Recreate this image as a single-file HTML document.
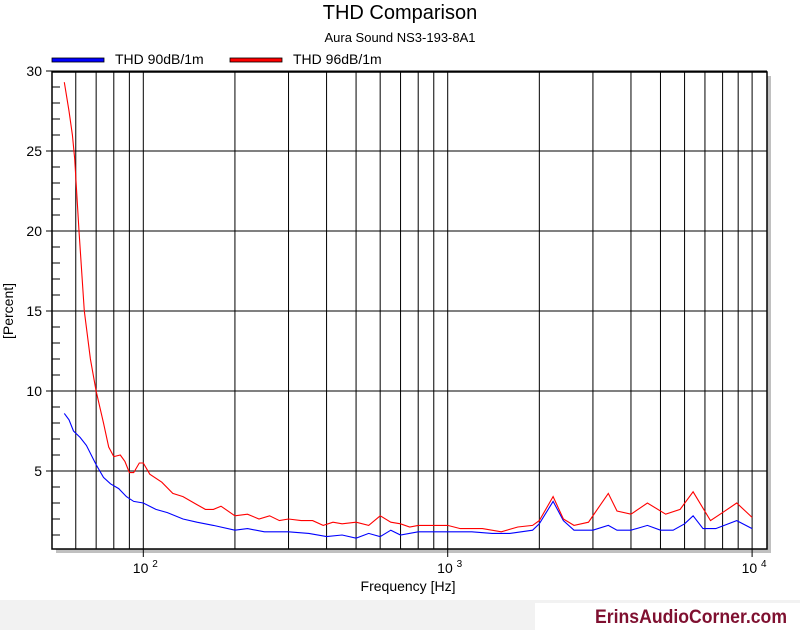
<!DOCTYPE html>
<html><head><meta charset="utf-8"><style>
body{margin:0;background:#fff;font-family:"Liberation Sans",sans-serif;}
svg text{font-family:"Liberation Sans",sans-serif;}
</style></head><body>
<svg id="c" width="800" height="630" xmlns="http://www.w3.org/2000/svg">
<rect x="0" y="600" width="800" height="30" fill="#f2f2f2"/>
<rect x="535" y="603" width="265" height="27" fill="#fff"/>
<text x="595" y="623" font-size="19" font-weight="bold" fill="#7f1030" textLength="192" lengthAdjust="spacingAndGlyphs">ErinsAudioCorner.com</text>
<text x="400" y="19" text-anchor="middle" font-size="20">THD Comparison</text>
<text x="400" y="42" text-anchor="middle" font-size="13">Aura Sound NS3-193-8A1</text>
<g>
<rect x="52" y="58" width="52" height="4" fill="#0000ff" stroke="#000" stroke-width="0.8"/>
<text x="115" y="64" font-size="14">THD 90dB/1m</text>
<rect x="230" y="58" width="52" height="4" fill="#ff0000" stroke="#000" stroke-width="0.8"/>
<text x="293" y="64" font-size="14">THD 96dB/1m</text>
</g>
<rect x="56" y="76" width="715" height="477" fill="#c0c0c0"/>
<rect x="52" y="72" width="715" height="477" fill="#fff"/>
<g id="grid"></g>
<g id="series"></g>
<rect x="52" y="72" width="715" height="477" fill="none" stroke="#000" stroke-width="1.5"/>
<text x="408" y="591" text-anchor="middle" font-size="14">Frequency [Hz]</text>
<text transform="translate(13,311) rotate(-90)" text-anchor="middle" font-size="14">[Percent]</text>
</svg>
<script>
const yTicks=[5,10,15,20,25,30];
const xDecades=[100,1000,10000];
const freqRed=[55,57,58.5,59.5,61.5,64,67,70,74,77,80,84,87,90,93,97,100,105,115,125,135,150,160,170,180,200,220,240,260,280,300,330,360,390,420,450,500,550,600,650,700,750,800,900,1000,1100,1300,1500,1700,1900,2000,2220,2400,2600,2900,3370,3600,4000,4530,5200,5800,6400,7300,8000,8900,10000];
const thd96=[29.3,27.5,26,24.5,20,15,12,10,8,6.5,5.9,6.0,5.6,4.9,4.9,5.5,5.5,4.8,4.3,3.6,3.4,2.9,2.6,2.6,2.8,2.2,2.3,2.0,2.2,1.9,2.0,1.9,1.9,1.6,1.8,1.7,1.8,1.6,2.2,1.8,1.7,1.5,1.6,1.6,1.6,1.4,1.4,1.2,1.5,1.6,1.9,3.4,2.0,1.6,1.8,3.6,2.5,2.3,3.0,2.3,2.6,3.7,1.9,2.4,3.0,2.1];
const freqBlue=[55,57,59,62,65,70,74,78,83,88,93,100,110,120,135,150,170,200,220,250,300,350,400,450,500,550,600,650,700,800,1000,1200,1400,1600,1900,2000,2220,2400,2600,3000,3370,3600,4000,4530,5000,5500,6000,6400,6900,7600,8900,10000];
const thd90=[8.6,8.2,7.5,7.1,6.6,5.4,4.6,4.2,3.9,3.4,3.1,3.0,2.6,2.4,2.0,1.8,1.6,1.3,1.4,1.2,1.2,1.1,0.9,1.0,0.8,1.1,0.9,1.3,1.0,1.2,1.2,1.2,1.1,1.1,1.3,1.7,3.1,1.9,1.3,1.3,1.6,1.3,1.3,1.6,1.3,1.3,1.7,2.2,1.4,1.4,1.9,1.4];
const NS='http://www.w3.org/2000/svg';
const X0=52,X1=767,Y0=72,Y1=549;
function xs(f){return 143.3+(Math.log10(f)-2)*304.4;}
function ys(v){return 551-v*16;}
function mk(tag,at,par){const e=document.createElementNS(NS,tag);for(const k in at)e.setAttribute(k,at[k]);par.appendChild(e);return e;}
const g=document.getElementById('grid');
for(let d=10;d<=10000;d*=10){for(let m=1;m<10;m++){const f=d*m;const x=xs(f);if(x<=X0+1||x>=X1-1)continue;
const l=mk('line',{x1:x,x2:x,y1:Y0,y2:Y1,stroke:'#000','stroke-width':1},g);

}}
xDecades.forEach(f=>{const x=xs(f);
const t=mk('line',{x1:x,x2:x,y1:Y1,y2:Y1+8,stroke:'#000'},g);


const tx=mk('text',{x:x+2,y:Y1+24,'text-anchor':'middle','font-size':14},g);


tx.innerHTML='10 <tspan font-size="10" dy="-6">'+Math.log10(f)+'</tspan>';});
for(let v=1;v<30;v++){const y=ys(v);
const t=mk('line',{x1:X0,x2:X0+8,y1:y,y2:y,stroke:'#000'},g);

}
yTicks.forEach(v=>{const y=ys(v);
const l=mk('line',{x1:X0-6,x2:X1,y1:y,y2:y,stroke:'#000','stroke-width':1},g);


const tx=mk('text',{x:X0-10,y:y+5,'text-anchor':'end','font-size':14},g);


tx.textContent=v;});
const s=document.getElementById('series');
function line(fr,vals,col,name){const p=fr.map((f,i)=>xs(f).toFixed(1)+','+ys(vals[i]).toFixed(1)).join(' ');
const e=mk('polyline',{points:p,fill:'none',stroke:col,'stroke-width':1.1},s);

}
line(freqBlue,thd90,'#0000ff','series-thd-90db');
line(freqRed,thd96,'#ff0000','series-thd-96db');
</script>
</body></html>
